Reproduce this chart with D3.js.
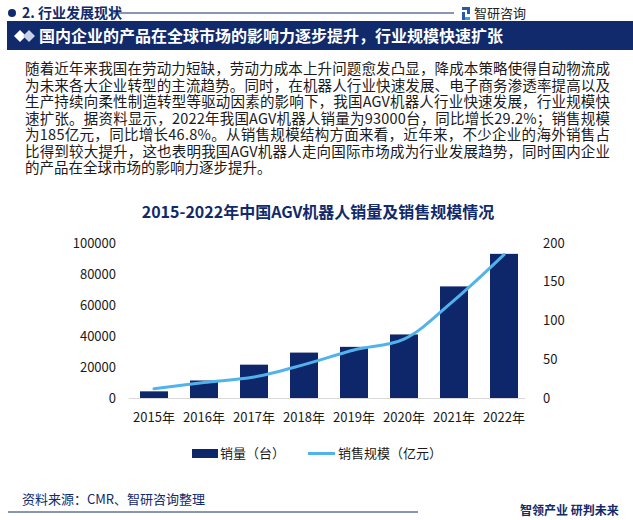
<!DOCTYPE html>
<html><head><meta charset="utf-8">
<script src="https://cdn.jsdelivr.net/npm/d3@7"></script>
<style>
html,body{margin:0;padding:0;background:#fff;}
svg{display:block;font-family:"Noto Sans CJK SC","Noto Sans",sans-serif;}
</style></head>
<body><svg id="c" width="633" height="520"></svg>
<script>
const years = ["2015年","2016年","2017年","2018年","2019年","2020年","2021年","2022年"];
const salesVolume = [4300, 11300, 21500, 29300, 33000, 41000, 72000, 93000];
const salesScale = [12, 20, 27, 43, 62, 76, 126, 185];
const leftTicks = [0, 20000, 40000, 60000, 80000, 100000];
const rightTicks = [0, 50, 100, 150, 200];
const paragraph = [
 "随着近年来我国在劳动力短缺，劳动力成本上升问题愈发凸显，降成本策略使得自动物流成",
 "为未来各大企业转型的主流趋势。同时，在机器人行业快速发展、电子商务渗透率提高以及",
 "生产持续向柔性制造转型等驱动因素的影响下，我国AGV机器人行业快速发展，行业规模快",
 "速扩张。据资料显示，2022年我国AGV机器人销量为93000台，同比增长29.2%；销售规模",
 "为185亿元，同比增长46.8%。从销售规模结构方面来看，近年来，不少企业的海外销售占",
 "比得到较大提升，这也表明我国AGV机器人走向国际市场成为行业发展趋势，同时国内企业",
 "的产品在全球市场的影响力逐步提升。"
];
const legendLabels = ["销量（台）", "销售规模（亿元）"];

const navy = "#102a6b", barColor = "#0e276a", lineColor = "#52b3ec";
const svg = d3.select("#c");

// header
svg.append("circle").attr("cx", 12).attr("cy", 13).attr("r", 4).attr("fill", navy);
svg.append("text").attr("x", 22).attr("y", 18).attr("font-size", 14).attr("font-weight", "bold").attr("fill", navy).text("2. 行业发展现状");
svg.append("line").attr("x1", 111).attr("x2", 454).attr("y1", 13).attr("y2", 13).attr("stroke", navy).attr("stroke-width", 1);
const logo = svg.append("g").attr("transform", "translate(462,7)");
logo.append("rect").attr("x",0).attr("y",0).attr("width",8).attr("height",3).attr("fill","#2b57a8");
logo.append("rect").attr("x",5).attr("y",0).attr("width",3).attr("height",7).attr("fill","#2b57a8");
logo.append("rect").attr("x",0).attr("y",5).attr("width",3).attr("height",8).attr("fill","#2b57a8");
logo.append("rect").attr("x",3).attr("y",10).attr("width",5).attr("height",3).attr("fill","#3aa0e0");
svg.append("text").attr("x", 474).attr("y", 18).attr("font-size", 13).attr("fill", "#222").text("智研咨询");

// banner
svg.append("rect").attr("x", 7).attr("y", 21).attr("width", 626).attr("height", 29).attr("fill", navy);
svg.append("path").attr("d", "M14,36 L20,30 L26,36 L20,42 Z").attr("fill", "#fff");
svg.append("path").attr("d", "M23,36 L29,30 L35,36 L29,42 Z").attr("fill", "#c8d2e6");
svg.append("text").attr("x", 39).attr("y", 42).attr("font-size", 16).attr("font-weight", "bold").attr("fill", "#fff")
  .text("国内企业的产品在全球市场的影响力逐步提升，行业规模快速扩张");

// paragraph
paragraph.forEach((t, i) => {
  const tx = svg.append("text").attr("x", 25).attr("y", 74 + i * 16.5).attr("font-size", 14.5).attr("fill", "#1a1a1a").text(t);
  if (i < paragraph.length - 1) tx.attr("textLength", 585).attr("lengthAdjust", "spacing");
});

// chart title
svg.append("text").attr("x", 318).attr("y", 218).attr("text-anchor", "middle").attr("font-size", 16).attr("font-weight", "bold").attr("fill", navy)
  .text("2015-2022年中国AGV机器人销量及销售规模情况");

// scales
const x = d3.scaleBand().domain(years).range([129, 529]).paddingInner(0.44).paddingOuter(0.22);
const yL = d3.scaleLinear().domain([0, 100000]).range([398, 243]);
const yR = d3.scaleLinear().domain([0, 200]).range([398, 243]);

// bars
svg.append("g").selectAll("rect").data(salesVolume).join("rect")
  .attr("x", (d, i) => x(years[i])).attr("width", x.bandwidth())
  .attr("y", d => yL(d)).attr("height", d => yL(0) - yL(d)).attr("fill", barColor);

// baseline
svg.append("line").attr("x1", 129).attr("x2", 525).attr("y1", 398.5).attr("y2", 398.5).attr("stroke", "#d9d9d9");

// axes
const axL = svg.append("g").attr("transform", "translate(118,0)")
  .call(d3.axisLeft(yL).tickValues(leftTicks).tickSize(0).tickPadding(2).tickFormat(d3.format("d")));
const axR = svg.append("g").attr("transform", "translate(541,0)")
  .call(d3.axisRight(yR).tickValues(rightTicks).tickSize(0).tickPadding(2));
const axX = svg.append("g").attr("transform", "translate(0,398)")
  .call(d3.axisBottom(x).tickSize(0).tickPadding(15));
[axL, axR, axX].forEach(a => {
  a.select(".domain").remove();
  a.selectAll("text").attr("font-size", 13).attr("fill", "#1a1a1a").attr("font-family", "'Noto Sans CJK SC','Noto Sans',sans-serif");
});

// line
const line = d3.line().x((d, i) => x(years[i]) + x.bandwidth() / 2).y(d => yR(d)).curve(d3.curveCatmullRom.alpha(0.5));
svg.append("path").datum(salesScale).attr("d", line).attr("fill", "none").attr("stroke", lineColor).attr("stroke-width", 3).attr("stroke-linecap", "round");

// legend
svg.append("rect").attr("x", 192).attr("y", 449).attr("width", 26).attr("height", 9).attr("fill", barColor);
svg.append("text").attr("x", 220).attr("y", 458).attr("font-size", 13).attr("fill", "#1a1a1a").text(legendLabels[0]);
svg.append("line").attr("x1", 308).attr("x2", 335).attr("y1", 453.5).attr("y2", 453.5).attr("stroke", lineColor).attr("stroke-width", 3);
svg.append("text").attr("x", 338).attr("y", 458).attr("font-size", 13).attr("fill", "#1a1a1a").text(legendLabels[1]);

// footer
svg.append("text").attr("x", 22).attr("y", 504).attr("font-size", 13).attr("fill", navy).text("资料来源：CMR、智研咨询整理");
svg.append("line").attr("x1", 8).attr("x2", 418).attr("y1", 512).attr("y2", 512).attr("stroke", navy).attr("stroke-width", 1);
svg.append("text").attr("x", 520).attr("y", 515).attr("font-size", 12).attr("font-weight", "bold").attr("fill", navy).text("智领产业 研判未来");
</script></body></html>
